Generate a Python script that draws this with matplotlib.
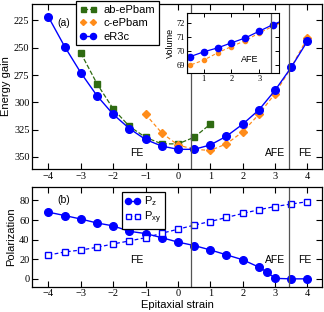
import numpy as np
import matplotlib
matplotlib.use("Agg")
import matplotlib.pyplot as plt

# strain values
strain = [-4, -3.5, -3, -2.5, -2, -1.5, -1, -0.5, 0, 0.5, 1, 1.5, 2, 2.5, 3, 3.5, 4]

# energy gain (a)
eR3c = [222, 249, 273, 294, 311, 324, 334, 340, 343, 343, 339, 331, 320, 307, 289, 268, 244]
ab_strain = [-3, -2.5, -2, -1.5, -1, -0.5, 0, 0.5, 1]
ab_ePbam = [255, 283, 306, 322, 332, 338, 338, 332, 320]
c_strain = [-1, -0.5, 0, 0.5, 1, 1.5, 2, 2.5, 3, 3.5, 4]
c_ePbam = [311, 328, 339, 343, 344, 338, 327, 311, 292, 268, 241]

# inset: volume
vol_strain = [0, 0.5, 1, 1.5, 2, 2.5, 3, 3.5, 4]
vol_eR3c = [69.25, 69.6, 69.95, 70.23, 70.59, 70.94, 71.42, 71.89, 72.3]
vol_c = [68.65, 69.0, 69.36, 69.88, 70.33, 70.75, 71.3, 71.77, 72.2]

# polarization (b)
pz_strain = [-4, -3.5, -3, -2.5, -2, -1.5, -1, -0.5, 0, 0.5, 1, 1.5, 2, 2.5, 2.75, 3, 3.5, 4]
pz = [68, 64.6, 61, 57, 54, 48.5, 46.2, 42, 37.5, 34, 29.5, 24.5, 19.5, 12, 7, 0.5, 0, 0]
pxy = [24.3, 27.4, 29.4, 32.2, 35.6, 38.7, 42, 46.5, 50.6, 54.8, 58.5, 62.6, 66.7, 70.5, 73.8, 76.3, 78.7]

boundaries = [0.4, 3.42]

blue = "#0000ff"
green = "#2f6b12"
orange = "#ff8c1a"

plt.rcParams["font.family"] = "Liberation Sans"
plt.rcParams["xtick.direction"] = "in"
plt.rcParams["ytick.direction"] = "in"

fig = plt.figure(figsize=(3.24, 3.12), dpi=100)
ax1 = fig.add_axes([0.0997, 0.4583, 0.894, 0.529])
ax2 = fig.add_axes([0.0997, 0.0811, 0.894, 0.3205])


def style(ax):
    ax.tick_params(top=True, right=True, length=4, width=0.8, labelsize=7.5, pad=2)
    for lab in ax.get_xticklabels() + ax.get_yticklabels():
        lab.set_family("Liberation Serif")
    for s in ax.spines.values():
        s.set_linewidth(0.9)


# (a) energy gain
ax1.plot(ab_strain, ab_ePbam, "--s", color=green, ms=4.5, lw=0.9, label="ab-ePbam")
ax1.plot(c_strain, c_ePbam, "--D", color=orange, ms=3.8, lw=0.9, dashes=(3, 2), label="c-ePbam")
ax1.plot(strain, eR3c, "-o", color=blue, ms=5.5, lw=1.0, label="eR3c")
for b in boundaries:
    ax1.axvline(b, color="#555555", lw=0.9)
ax1.set_xlim(-4.5, 4.45)
ax1.set_ylim(361, 210)
ax1.set_xticks(range(-4, 5))
ax1.set_yticks([225, 250, 275, 300, 325, 350])
ax1.set_ylabel("Energy gain", fontsize=8, labelpad=2)
ax1.text(-3.53, 227, "(a)", fontsize=7.5, ha="center", va="center")
ax1.text(-1.27, 346, "FE", fontsize=7.5, ha="center", va="center")
ax1.text(3.0, 346, "AFE", fontsize=7.5, ha="center", va="center")
ax1.text(3.92, 346, "FE", fontsize=7.5, ha="center", va="center")
style(ax1)
leg1 = ax1.legend(loc="upper left", bbox_to_anchor=(76 / 324, 1 - 1 / 312),
                  bbox_transform=fig.transFigure, borderaxespad=0, fontsize=8,
                  numpoints=2, markerscale=0.8, handlelength=1.5, handletextpad=0.6,
                  labelspacing=0.3, borderpad=0.35, fancybox=False, framealpha=1,
                  edgecolor="black")
leg1.get_frame().set_linewidth(0.9)

# inset: volume
axi = fig.add_axes([0.577, 0.766, 0.285, 0.192])
axi.plot(vol_strain, vol_c, "--o", color=orange, ms=3, lw=0.8, dashes=(3, 2))
axi.plot(vol_strain, vol_eR3c, "-o", color=blue, ms=4.5, lw=0.9)
for b in boundaries:
    axi.axvline(b, color="#555555", lw=0.9)
axi.set_xlim(0.4, 3.72)
axi.set_ylim(68.45, 72.7)
axi.set_xticks([1, 2, 3])
axi.set_yticks([69, 70, 71, 72])
axi.set_ylabel("Volume", fontsize=6.5, labelpad=1)
axi.text(2.65, 69.38, "AFE", fontsize=6.5, ha="center", va="center")
axi.tick_params(top=True, right=True, length=3, width=0.7, labelsize=6, pad=1.5)
for lab in axi.get_xticklabels() + axi.get_yticklabels():
    lab.set_family("Liberation Serif")

# (b) polarization
ax2.plot(pz_strain, pz, "-o", color=blue, ms=5.5, lw=1.0, label=r"P$_\mathregular{z}$")
ax2.plot(strain, pxy, "--s", color=blue, ms=4.5, lw=0.9, mfc="white", dashes=(3, 2),
         label=r"P$_\mathregular{xy}$")
for b in boundaries:
    ax2.axvline(b, color="#555555", lw=0.9)
ax2.set_xlim(-4.5, 4.45)
ax2.set_ylim(-8, 94)
ax2.set_xticks(range(-4, 5))
ax2.set_yticks([0, 20, 40, 60, 80])
ax2.set_xlabel("Epitaxial strain", fontsize=8, labelpad=1)
ax2.set_ylabel("Polarization", fontsize=8, labelpad=2)
ax2.text(-3.52, 80, "(b)", fontsize=7.5, ha="center", va="center")
ax2.text(-1.28, 19.5, "FE", fontsize=7.5, ha="center", va="center")
ax2.text(3.0, 19.5, "AFE", fontsize=7.5, ha="center", va="center")
ax2.text(3.92, 19.5, "FE", fontsize=7.5, ha="center", va="center")
style(ax2)
leg2 = ax2.legend(loc="upper left", bbox_to_anchor=(121.7 / 324, 1 - 191.7 / 312),
                  bbox_transform=fig.transFigure, borderaxespad=0, fontsize=8,
                  numpoints=2, markerscale=0.8, handlelength=1.4, handletextpad=0.4,
                  labelspacing=0.1, borderpad=0.25, fancybox=False, framealpha=1,
                  edgecolor="black")
leg2.get_frame().set_linewidth(0.9)

fig.savefig("out.png", dpi=100)
